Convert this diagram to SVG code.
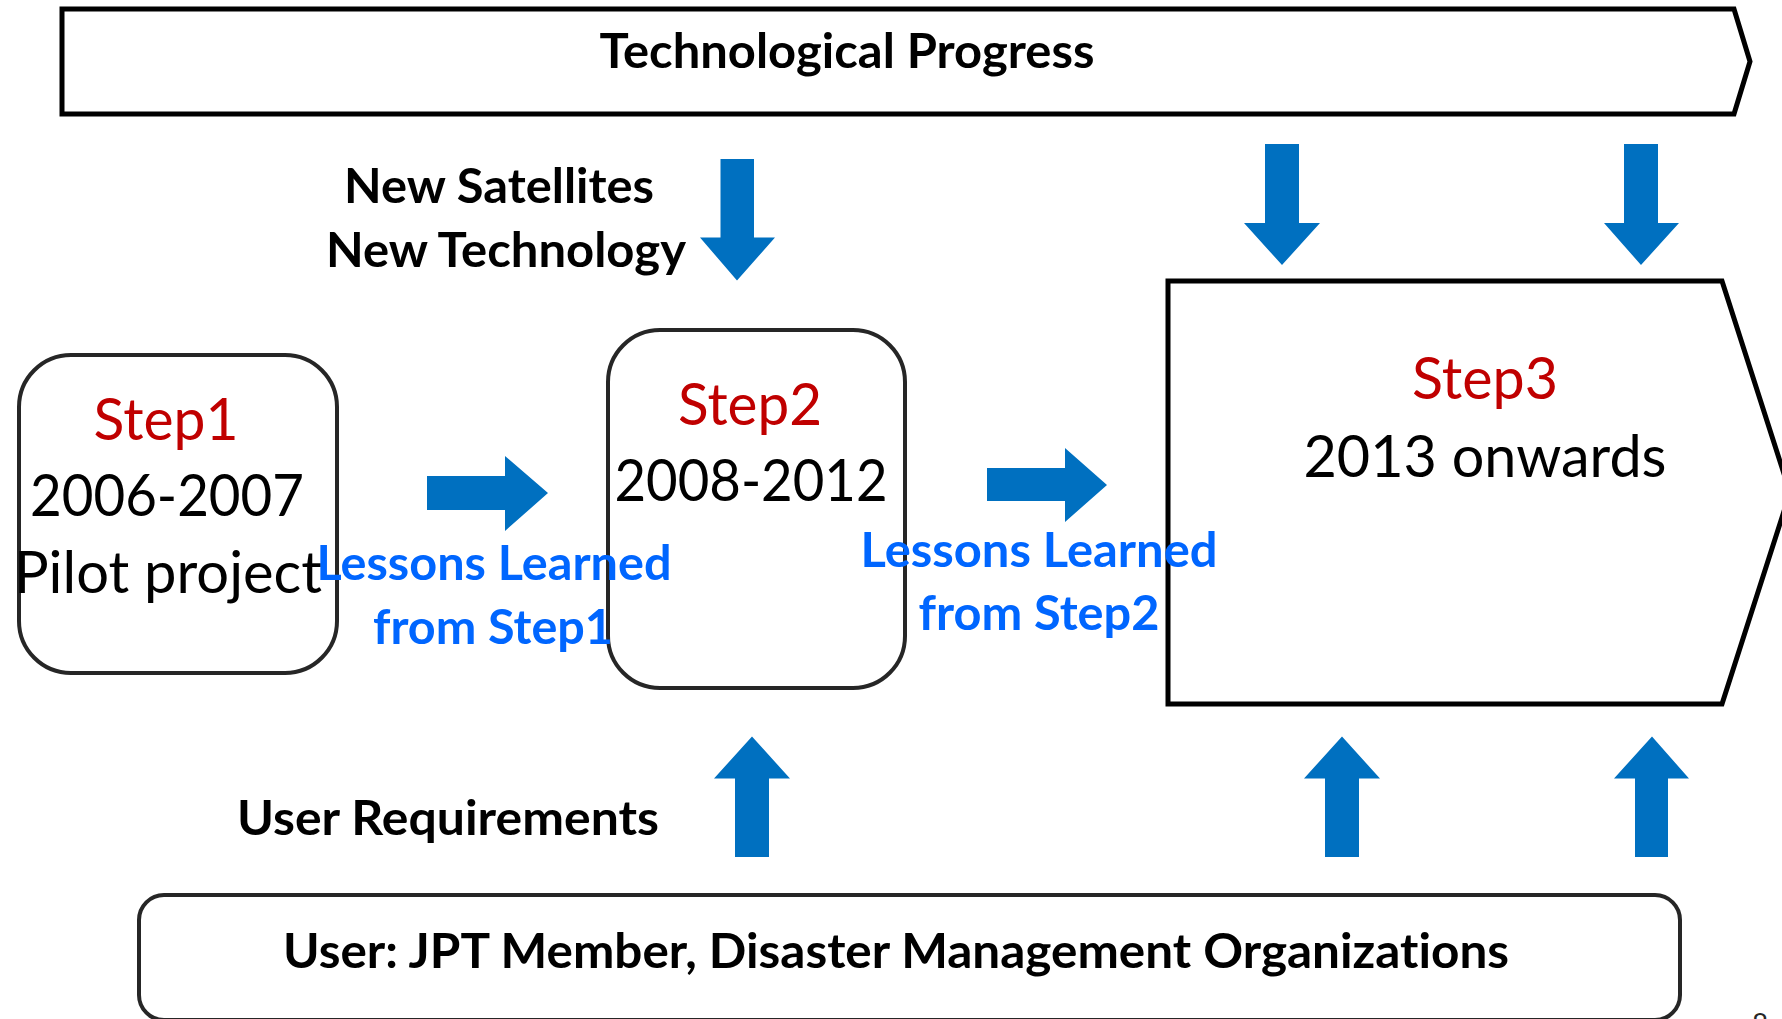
<svg xmlns="http://www.w3.org/2000/svg" width="1782" height="1019" viewBox="0 0 1782 1019">
<style>
text{font-variant-ligatures:none;font-feature-settings:"liga" 0,"dlig" 0}
.bold{font-family:Lato,"Open Sans","Liberation Sans",sans-serif;font-weight:bold;font-size:48px;fill:#000}
.reg{font-family:Lato,"Open Sans","Liberation Sans",sans-serif;font-size:58px;fill:#000}
.red{fill:#C00000}
.lesson{font-family:Lato,"Open Sans","Liberation Sans",sans-serif;font-weight:bold;font-size:48px;fill:#0066FF}
.frame{fill:#fff;stroke:#000;stroke-width:5}
.box{fill:#fff;stroke:#262626;stroke-width:4}
.arrow{fill:#0070C0}
</style>
<rect width="1782" height="1019" fill="#fff"/>
<g id="tech-progress">
<polygon class="frame" points="62,9 1734,9 1750,61.5 1734,114 62,114"/>
<text class="bold" x="847" y="68" text-anchor="middle" textLength="495" lengthAdjust="spacingAndGlyphs">Technological Progress</text>
</g>
<g id="new-tech-label">
<text class="bold" x="499" y="203" text-anchor="middle" textLength="310" lengthAdjust="spacingAndGlyphs">New Satellites</text>
<text class="bold" x="506" y="267" text-anchor="middle" textLength="360" lengthAdjust="spacingAndGlyphs">New Technology</text>
</g>
<g id="user-req-label">
<text class="bold" x="448" y="835" text-anchor="middle" textLength="422" lengthAdjust="spacingAndGlyphs">User Requirements</text>
</g>
<g id="step1">
<rect class="box" x="19" y="355" width="318" height="318" rx="52" ry="52"/>
<text class="reg red" x="166" y="440" text-anchor="middle" textLength="145" lengthAdjust="spacingAndGlyphs">Step1</text>
<text class="reg" x="167" y="516" text-anchor="middle" textLength="274" lengthAdjust="spacingAndGlyphs">2006-2007</text>
<text class="reg" x="168" y="593" text-anchor="middle" textLength="308" lengthAdjust="spacingAndGlyphs">Pilot project</text>
</g>
<g id="step2">
<rect class="box" x="608" y="330" width="297" height="358" rx="52" ry="52"/>
<text class="reg red" x="750" y="425" text-anchor="middle" textLength="144" lengthAdjust="spacingAndGlyphs">Step2</text>
<text class="reg" x="751" y="501" text-anchor="middle" textLength="273" lengthAdjust="spacingAndGlyphs">2008-2012</text>
</g>
<g id="step3">
<polygon class="frame" points="1168,281 1722,281 1790,492.5 1722,704 1168,704"/>
<text class="reg red" x="1485" y="399" text-anchor="middle" textLength="146" lengthAdjust="spacingAndGlyphs">Step3</text>
<text class="reg" x="1485" y="477" text-anchor="middle" textLength="363" lengthAdjust="spacingAndGlyphs">2013 onwards</text>
</g>
<g id="user-box">
<rect class="box" x="139" y="895" width="1541" height="125" rx="25" ry="25"/>
<text class="bold" x="896" y="968" text-anchor="middle" textLength="1226" lengthAdjust="spacingAndGlyphs">User: JPT Member, Disaster Management Organizations</text>
</g>
<g id="connectors">
<polygon class="arrow" points="720.5,159 754,159 754,237.5 775,237.5 737,280.5 700,237.5 720.5,237.5"/>
<polygon class="arrow" points="1265,144 1299,144 1299,223 1320,223 1282,265 1244,223 1265,223"/>
<polygon class="arrow" points="1624,144 1658,144 1658,223 1679,223 1641,265 1604,223 1624,223"/>
<polygon class="arrow" points="735,857 769,857 769,778.5 790,778.5 752,736.5 714,778.5 735,778.5"/>
<polygon class="arrow" points="1325,857 1359,857 1359,778.5 1380,778.5 1342,736.5 1304,778.5 1325,778.5"/>
<polygon class="arrow" points="1635,857 1668,857 1668,778.5 1689,778.5 1652,736.5 1614,778.5 1635,778.5"/>
<polygon class="arrow" points="427,476 505,476 505,456 548,493 505,531 505,510 427,510"/>
<polygon class="arrow" points="987,468 1065,468 1065,448 1107,485 1065,522 1065,501 987,501"/>
</g>
<g id="lessons1">
<text class="lesson" x="494" y="580" text-anchor="middle" textLength="355" lengthAdjust="spacingAndGlyphs">Lessons Learned</text>
<text class="lesson" x="493" y="644" text-anchor="middle" textLength="240" lengthAdjust="spacingAndGlyphs">from Step1</text>
</g>
<g id="lessons2">
<text class="lesson" x="1039" y="567" text-anchor="middle" textLength="357" lengthAdjust="spacingAndGlyphs">Lessons Learned</text>
<text class="lesson" x="1039" y="630" text-anchor="middle" textLength="241" lengthAdjust="spacingAndGlyphs">from Step2</text>
</g>
<g id="page-number">
<text x="1760" y="1034" font-family="Lato,'Liberation Sans',sans-serif" font-size="28" fill="#262626" text-anchor="middle">8</text>
</g>
</svg>
